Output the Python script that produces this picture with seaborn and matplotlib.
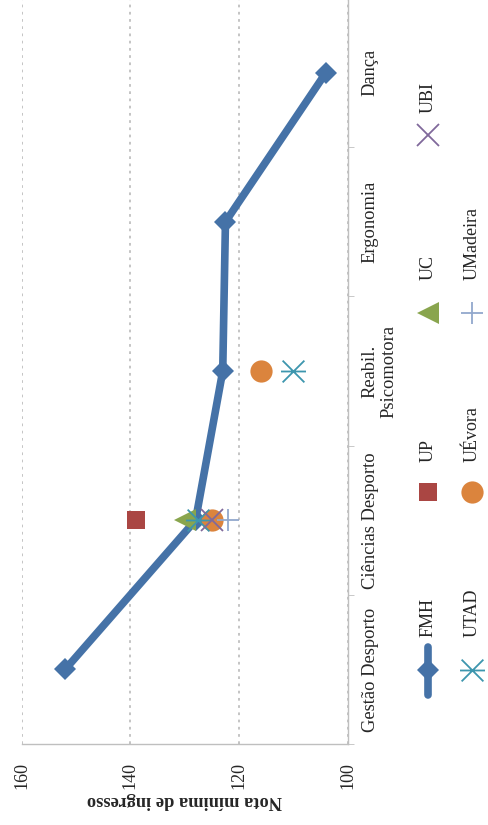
import numpy as np
import pandas as pd
import seaborn as sns
import matplotlib.pyplot as plt
from matplotlib.lines import Line2D
from matplotlib.path import Path
from matplotlib.ticker import FixedLocator

# cursos (de baixo para cima no gráfico rodado)
cursos = ['Gestão Desporto', 'Ciências Desporto', 'Reabil.\nPsicomotora', 'Ergonomia', 'Dança']

# notas mínimas de ingresso
fmh = [152, 128, 123, 122.5, 104]
up = {'Ciências Desporto': 139}
uc = {'Ciências Desporto': 130}
ubi = {'Ciências Desporto': 125}
utad = {'Ciências Desporto': 127.5, 'Reabil.\nPsicomotora': 110}
uevora = {'Ciências Desporto': 125, 'Reabil.\nPsicomotora': 116}
umadeira = {'Ciências Desporto': 122}

eixo_valores = [160, 140, 120, 100]

# asterisco deitado (x com traço horizontal)
asterisco = Path([(-1, -1), (1, 1), (-1, 1), (1, -1), (-1.15, 0), (1.15, 0)],
                 [Path.MOVETO, Path.LINETO, Path.MOVETO, Path.LINETO, Path.MOVETO, Path.LINETO])

# nome, dados, cor, marcador, tamanho, preenchido, zorder
series = [
    ('UP', up, '#AA4643', 's', 13, True, 4),
    ('UC', uc, '#89A54E', '<', 16, True, 3),
    ('UTAD', utad, '#3D96AE', asterisco, 18, False, 6),
    ('UÉvora', uevora, '#DB843D', 'o', 16, True, 5),
    ('UBI', ubi, '#80699B', 'x', 16, False, 7),
    ('UMadeira', umadeira, '#92A8CD', '+', 16, False, 8),
]

sns.set_style("white")
plt.rcParams['font.family'] = ['Liberation Serif', 'DejaVu Serif']

W, H = 489, 825
fig = plt.figure(figsize=(W / 100, H / 100), dpi=100)
ax = fig.add_axes([21.7 / W, 1 - 744 / H, 326 / W, 746 / H])

pos = {c: i for i, c in enumerate(cursos)}

df_fmh = pd.DataFrame({'nota': fmh, 'pos': [pos[c] for c in cursos]})
sns.lineplot(data=df_fmh, x='nota', y='pos', sort=False, estimator=None, ax=ax,
             color='#4572A7', lw=5.5, marker='D', markersize=11,
             markeredgecolor='#4572A7', markeredgewidth=0, legend=False, zorder=2)

for nome, dados, cor, mk, ms, cheio, z in series:
    d = pd.DataFrame({'nota': list(dados.values()), 'pos': [pos[c] for c in dados]})
    sns.lineplot(data=d, x='nota', y='pos', sort=False, estimator=None, ax=ax,
                 linestyle='', marker=mk, markersize=ms, color=cor,
                 markerfacecolor=cor if cheio else 'none', markeredgecolor=cor,
                 markeredgewidth=0 if cheio else 1.3, legend=False, zorder=z)

cinza = '#BFBFBF'
ax.set_xlim(160, 100)
ax.set_ylim(-0.5, 4.5)
ax.set_xticks(eixo_valores)
ax.set_xticklabels([str(v) for v in eixo_valores], rotation=90, fontsize=13)
ax.grid(axis='x', ls=(0, (1.5, 2.5)), color=cinza, lw=1.3)
ax.grid(axis='y', visible=False)

ax.yaxis.tick_right()
ax.set_yticks(range(len(cursos)))
ax.set_yticklabels(cursos, rotation=90, fontsize=13.3, va='center', ha='left',
                   multialignment='center', linespacing=1.15)
ax.yaxis.set_minor_locator(FixedLocator(np.arange(-0.5, len(cursos), 1)))
ax.tick_params(axis='y', which='major', length=0, pad=10)
ax.tick_params(axis='y', which='minor', length=4, color=cinza, right=True, left=False)
ax.tick_params(axis='x', length=4, color=cinza, pad=9)
ax.set_xlabel('Nota mínima de ingresso', fontsize=13.2, fontweight='bold', rotation=180,
              labelpad=2)
ax.set_ylabel('')

for s in ['left', 'top']:
    ax.spines[s].set_visible(False)
for s in ['right', 'bottom']:
    ax.spines[s].set_color(cinza)
    ax.spines[s].set_linewidth(1)


def px(x, y):
    return x / W, 1 - y / H


# legenda manual (rodada)
legenda = [
    ('FMH', 428, 670, 637), ('UP', 428, 492, 462), ('UC', 428, 313, 280), ('UBI', 428, 135, 113),
    ('UTAD', 472, 670, 637), ('UÉvora', 472, 492, 462), ('UMadeira', 472, 313, 280),
]
estilos = {nome: (cor, mk, ms, cheio) for nome, _, cor, mk, ms, cheio, _ in series}
for nome, x, ym, yt in legenda:
    if nome == 'FMH':
        fig.add_artist(Line2D([px(x, 647)[0], px(x, 695)[0]], [px(x, 647)[1], px(x, 695)[1]],
                              transform=fig.transFigure, color='#4572A7', lw=5.5,
                              solid_capstyle='round'))
        fig.add_artist(Line2D([px(x, ym)[0]], [px(x, ym)[1]], transform=fig.transFigure,
                              marker='D', markersize=11, color='#4572A7', mew=0, ls=''))
    else:
        cor, mk, ms, cheio = estilos[nome]
        fig.add_artist(Line2D([px(x, ym)[0]], [px(x, ym)[1]], transform=fig.transFigure,
                              marker=mk, markersize=ms, color=cor, ls='',
                              markerfacecolor=cor if cheio else 'none',
                              markeredgecolor=cor, mew=0 if cheio else 1.3))
    tx, ty = px(x, yt)
    fig.text(tx, ty, nome, rotation=90, ha='center', va='bottom', fontsize=13)

fig.savefig('out.png', dpi=100)
